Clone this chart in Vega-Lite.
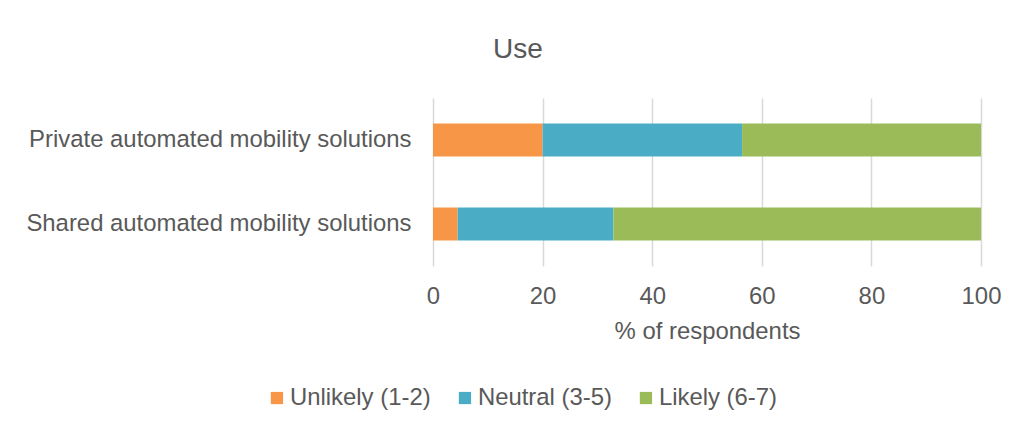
{
  "$schema": "https://vega.github.io/schema/vega-lite/v6.json",
  "autosize": "none",
  "width": 548,
  "height": 168,
  "padding": {"left": 433, "top": 98, "right": 41, "bottom": 165},
  "background": "white",
  "title": {
    "text": "Use",
    "fontSize": 28,
    "font": "Liberation Sans",
    "fontWeight": "normal",
    "color": "#595959",
    "dx": -189,
    "offset": 34
  },
  "data": {
    "values": [
      {"solution": "Private automated mobility solutions", "response": "Unlikely (1-2)", "rank": 1, "pct": 20.0},
      {"solution": "Private automated mobility solutions", "response": "Neutral (3-5)", "rank": 2, "pct": 36.4},
      {"solution": "Private automated mobility solutions", "response": "Likely (6-7)", "rank": 3, "pct": 43.6},
      {"solution": "Shared automated mobility solutions", "response": "Unlikely (1-2)", "rank": 1, "pct": 4.5},
      {"solution": "Shared automated mobility solutions", "response": "Neutral (3-5)", "rank": 2, "pct": 28.4},
      {"solution": "Shared automated mobility solutions", "response": "Likely (6-7)", "rank": 3, "pct": 67.1}
    ]
  },
  "mark": {"type": "bar", "size": 33},
  "encoding": {
    "y": {
      "field": "solution",
      "type": "nominal",
      "sort": ["Private automated mobility solutions", "Shared automated mobility solutions"],
      "scale": {"paddingInner": 0, "paddingOuter": 0},
      "axis": {
        "title": null,
        "ticks": false,
        "tickSize": 0,
        "domain": false,
        "labelPadding": 22,
        "labelFontSize": 23.9,
        "labelFont": "Liberation Sans",
        "labelColor": "#595959",
        "labelLimit": 500
      }
    },
    "x": {
      "field": "pct",
      "type": "quantitative",
      "stack": "zero",
      "scale": {"domain": [0, 100], "nice": false},
      "axis": {
        "title": "% of respondents",
        "titleFontSize": 23.9,
        "titleFont": "Liberation Sans",
        "titleFontWeight": "normal",
        "titleColor": "#595959",
        "titlePadding": 12,
        "values": [0, 20, 40, 60, 80, 100],
        "ticks": false,
        "tickSize": 0,
        "domain": false,
        "grid": true,
        "gridColor": "#d9d9d9",
        "gridWidth": 1.5,
        "labelPadding": 18,
        "labelFontSize": 23.9,
        "labelFont": "Liberation Sans",
        "labelColor": "#595959",
        "labelFlush": false
      }
    },
    "color": {
      "field": "response",
      "type": "nominal",
      "sort": ["Unlikely (1-2)", "Neutral (3-5)", "Likely (6-7)"],
      "scale": {
        "domain": ["Unlikely (1-2)", "Neutral (3-5)", "Likely (6-7)"],
        "range": ["#F79646", "#4BACC6", "#9BBB59"]
      },
      "legend": {
        "title": null,
        "orient": "none",
        "direction": "horizontal",
        "legendX": -168,
        "legendY": 288,
        "symbolType": "square",
        "symbolSize": 150,
        "symbolStrokeWidth": 0,
        "labelFontSize": 23.9,
        "labelFont": "Liberation Sans",
        "labelColor": "#595959",
        "labelOffset": 1,
        "columnPadding": 22,
        "labelLimit": 400
      }
    },
    "order": {"field": "rank", "type": "quantitative"}
  },
  "config": {
    "view": {"stroke": null}
  }
}
